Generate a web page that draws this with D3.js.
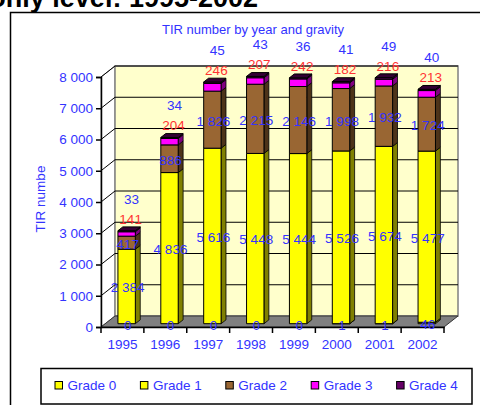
<!DOCTYPE html>
<html>
<head>
<meta charset="utf-8">
<script src="https://cdn.jsdelivr.net/npm/d3@7"></script>
<style>
  body { margin: 0; background: #fff; overflow: hidden; }
  svg { display: block; font-family: Arial, "Liberation Sans", sans-serif; }
</style>
</head>
<body>
<svg id="chart" width="480" height="405"></svg>
<script>
const years = ["1995", "1996", "1997", "1998", "1999", "2000", "2001", "2002"];
const grades = ["Grade 0", "Grade 1", "Grade 2", "Grade 3", "Grade 4"];
const grade0 = [0, 0, 0, 0, 0, 1, 1, 46];
const grade1 = [2384, 4836, 5616, 5448, 5444, 5526, 5674, 5477];
const grade2 = [417, 886, 1826, 2215, 2146, 1998, 1932, 1724];
const grade3 = [141, 204, 246, 207, 242, 182, 216, 213];
const grade4 = [33, 34, 45, 43, 36, 41, 49, 40];
const yTicks = [0, 1000, 2000, 3000, 4000, 5000, 6000, 7000, 8000];

const series = [grade0, grade1, grade2, grade3, grade4];
const fills = ["#FFFF00", "#FFFF00", "#996633", "#FF00FF", "#660066"];
const sides = ["#808000", "#808000", "#4D3319", "#800080", "#330033"];
const blue = "#3333FF", red = "#FF3333";
const fs = 13.5;

const locale = d3.formatLocale({ decimal: ",", thousands: "\u00a0", grouping: [3], currency: ["", ""] });
const fmt = locale.format(",d");

const svg = d3.select("#chart");

// page heading, clipped at the top
svg.append("text")
    .attr("x", 258).attr("y", 6.5)
    .attr("text-anchor", "end")
    .attr("font-weight", "bold")
    .attr("font-size", 27)
    .attr("fill", "#000")
    .text("only level: 1995-2002");

// chart frame (runs off right/bottom)
svg.append("rect")
    .attr("x", 10.5).attr("y", 12.5)
    .attr("width", 520).attr("height", 450)
    .attr("fill", "#fff").attr("stroke", "#000").attr("stroke-width", 1.5);

svg.append("text")
    .attr("x", 253).attr("y", 34)
    .attr("text-anchor", "middle")
    .attr("font-size", 13)
    .attr("fill", blue)
    .text("TIR number by year and gravity");

// 3D geometry
const depth = { dx: 14, dy: -11 };
const x = d3.scaleBand().domain(years).range([101, 444]).padding(0);
const y = d3.scaleLinear().domain([0, 8000]).range([327, 77]);
const proj = (px, v, f) => [px + f * depth.dx, y(v) + f * depth.dy];

const f0 = 0.3, f1 = 0.65;
const bw = x.bandwidth() * 0.406;

const g = svg.append("g");

// side wall (left)
g.append("path")
    .attr("d", d3.line()([proj(101, 0, 0), proj(101, 8000, 0), proj(101, 8000, 1), proj(101, 0, 1)]) + "Z")
    .attr("fill", "#fff").attr("stroke", "#808080").attr("stroke-width", 1);

// back wall
const bl = proj(101, 0, 1), tr = proj(444, 8000, 1);
g.append("rect")
    .attr("x", bl[0]).attr("y", tr[1])
    .attr("width", tr[0] - bl[0]).attr("height", bl[1] - tr[1])
    .attr("fill", "#FFFFCC").attr("stroke", "#808080").attr("stroke-width", 1.5);

// gridlines on back wall and side wall
yTicks.slice(1).forEach(t => {
    const a = proj(101, t, 0), b = proj(101, t, 1), c = proj(444, t, 1);
    g.append("path")
        .attr("d", d3.line()([a, b, c]))
        .attr("fill", "none").attr("stroke", "#000").attr("stroke-width", 1);
});

// floor
g.append("path")
    .attr("d", d3.line()([proj(101, 0, 0), proj(444, 0, 0), proj(444, 0, 1), proj(101, 0, 1)]) + "Z")
    .attr("fill", "#808080").attr("stroke", "#333").attr("stroke-width", 1);

// y axis
const yAxis = svg.append("g")
    .attr("transform", "translate(101,0)")
    .call(d3.axisLeft(y).tickValues(yTicks).tickFormat(fmt).tickSize(5).tickPadding(3));
yAxis.select(".domain").attr("stroke", "#000").attr("stroke-width", 1.5);
yAxis.selectAll(".tick line").attr("stroke", "#000").attr("stroke-width", 1.5);
yAxis.selectAll(".tick text").attr("fill", blue).attr("font-size", fs).attr("font-family", "Arial");

// x axis
const xAxis = svg.append("g")
    .attr("transform", "translate(0,327)")
    .call(d3.axisBottom(x).tickSize(0).tickPadding(12));
xAxis.select(".domain").attr("stroke", "#000").attr("stroke-width", 1.5);
xAxis.selectAll(".tick text").attr("fill", blue).attr("font-size", fs).attr("font-family", "Arial");
years.concat([null]).forEach((yr, i) => {
    const px = 101 + i * x.bandwidth();
    xAxis.append("line")
        .attr("x1", px).attr("x2", px).attr("y1", 0).attr("y2", 6)
        .attr("stroke", "#000").attr("stroke-width", 1.5);
});

svg.append("text")
    .attr("transform", "translate(45,199) rotate(-90)")
    .attr("text-anchor", "middle")
    .attr("font-size", fs)
    .attr("fill", blue)
    .text("TIR numbe");

// bars
const bars = svg.append("g");
const labels = svg.append("g").attr("font-size", fs).attr("text-anchor", "middle");

years.forEach((yr, i) => {
    const left = x(yr) + (x.bandwidth() - bw) / 2;
    const right = left + bw;
    let base = 0;
    const segs = series.map((s, k) => {
        const seg = { k, v0: base, v1: base + s[i], val: s[i] };
        base += s[i];
        return seg;
    });
    const total = base;
    segs.forEach(seg => {
        if (seg.val <= 0) return;
        // side face
        bars.append("path")
            .attr("d", d3.line()([proj(right, seg.v0, f0), proj(right, seg.v0, f1), proj(right, seg.v1, f1), proj(right, seg.v1, f0)]) + "Z")
            .attr("fill", sides[seg.k]).attr("stroke", "#000").attr("stroke-width", 0.8);
        // front face
        bars.append("path")
            .attr("d", d3.line()([proj(left, seg.v0, f0), proj(right, seg.v0, f0), proj(right, seg.v1, f0), proj(left, seg.v1, f0)]) + "Z")
            .attr("fill", fills[seg.k]).attr("stroke", "#000").attr("stroke-width", 1);
    });
    // top face
    const topK = segs.filter(s => s.val > 0).pop().k;
    bars.append("path")
        .attr("d", d3.line()([proj(left, total, f0), proj(right, total, f0), proj(right, total, f1), proj(left, total, f1)]) + "Z")
        .attr("fill", topK === 4 ? "#330033" : sides[topK]).attr("stroke", "#000").attr("stroke-width", 1);

    const cx = (left + right) / 2 + f0 * depth.dx;
    const fy = v => y(v) + f0 * depth.dy;
    segs.forEach(seg => {
        let lx = cx + 1, ly, col = blue;
        if (seg.k <= 2) {
            ly = fy((seg.v0 + seg.v1) / 2) + 1;
        } else if (seg.k === 3) {
            lx = cx + 4; ly = fy(total) - 12; col = red;
        } else {
            lx = cx + 5; ly = fy(total) - 32;
        }
        labels.append("text")
            .attr("x", lx).attr("y", ly)
            .attr("dy", "0.36em")
            .attr("fill", col)
            .text(fmt(seg.val));
    });
});

// legend
const legend = svg.append("g");
legend.append("rect")
    .attr("x", 41).attr("y", 368.5)
    .attr("width", 431).attr("height", 35.5)
    .attr("fill", "#fff").attr("stroke", "#000").attr("stroke-width", 1.5);
grades.forEach((gname, k) => {
    const lx = 55 + k * 85.4;
    legend.append("rect")
        .attr("x", lx).attr("y", 381.5)
        .attr("width", 7.5).attr("height", 7.5)
        .attr("fill", fills[k]).attr("stroke", "#000").attr("stroke-width", 1);
    legend.append("text")
        .attr("x", lx + 12.5).attr("y", 390)
        .attr("font-size", fs)
        .attr("fill", blue)
        .text(gname);
});
</script>
</body>
</html>
